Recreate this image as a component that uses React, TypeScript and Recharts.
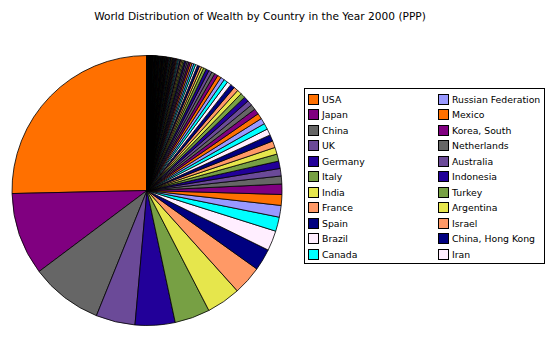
import React from 'react';
import { PieChart, Pie, Cell, Legend } from 'recharts';

const title = 'World Distribution of Wealth by Country in the Year 2000 (PPP)';

const countries = [
  'USA', 'Japan', 'China', 'UK', 'Germany', 'Italy', 'India', 'France', 'Spain', 'Brazil', 'Canada',
  'Russian Federation', 'Mexico', 'Korea, South', 'Netherlands', 'Australia', 'Indonesia', 'Turkey',
  'Argentina', 'Israel', 'China, Hong Kong', 'Iran',
];

const shares = [
  25.36, 9.89, 8.64, 4.69, 4.78, 4.22, 4.08, 3.47, 2.6, 2.4, 1.7,
  1.4, 1.3, 1.24, 0.95, 0.9, 0.88, 0.85, 0.82, 0.8, 0.78, 0.77,
];

// remaining (unlabelled) countries, largest first
const otherShares = [
  0.72, 0.70, 0.68, 0.66, 0.64, 0.62, 0.60, 0.58, 0.56, 0.54,
  0.52, 0.50, 0.48, 0.46, 0.44, 0.42, 0.40, 0.38, 0.36, 0.34,
  0.27, 0.26, 0.25, 0.24, 0.23, 0.22, 0.21, 0.20, 0.19, 0.18,
  0.17, 0.16, 0.15, 0.14, 0.13, 0.12, 0.12, 0.11, 0.10, 0.10,
  0.09, 0.09, 0.09, 0.08, 0.08, 0.08, 0.07, 0.07, 0.07, 0.07,
  0.06, 0.06, 0.06, 0.06, 0.05, 0.05, 0.05, 0.05, 0.05, 0.05,
];

const smallestShares = [
  0.04, 0.04, 0.04, 0.04, 0.04, 0.04, 0.04, 0.04, 0.04, 0.04,
  0.04, 0.04, 0.04, 0.04, 0.04, 0.04, 0.04, 0.04, 0.04, 0.04,
  0.03, 0.03, 0.03, 0.03, 0.03, 0.03, 0.03, 0.03, 0.03, 0.03,
  0.03, 0.03, 0.03, 0.03, 0.03, 0.03, 0.03, 0.03, 0.03, 0.03,
  0.02, 0.02, 0.02, 0.02, 0.02, 0.02, 0.02, 0.02, 0.02, 0.02,
  0.02, 0.02, 0.02, 0.02, 0.02, 0.02, 0.02, 0.02, 0.02, 0.02,
  0.01, 0.01, 0.01, 0.01, 0.01, 0.01, 0.01, 0.01, 0.01, 0.01,
  0.01, 0.01, 0.01, 0.01, 0.01, 0.01, 0.01, 0.01, 0.01, 0.01,
];

const palette = [
  '#FF7000', '#800080', '#666666', '#6B4A98', '#220099', '#77A044',
  '#E6E64C', '#FF9966', '#000080', '#FFEEFF', '#00FFFF', '#9999FF',
];

const data = [
  ...countries.map((name, i) => ({ name, value: shares[i] })),
  ...[...otherShares, ...smallestShares].map((value, i) => ({ name: `Other ${i + 1}`, value })),
];

const FONT = '"DejaVu Sans", Verdana, sans-serif';

const renderLegend = () => {
  const half = Math.ceil(countries.length / 2);
  const cols = [countries.slice(0, half), countries.slice(half)];
  return (
    <div
      style={{
        width: 241,
        height: 176,
        border: '1px solid #000',
        background: '#fff',
        boxSizing: 'border-box',
        position: 'relative',
        fontFamily: FONT,
        fontSize: 9.3,
        color: '#000',
      }}
    >
      {cols.map((col, c) =>
        col.map((name, r) => {
          const idx = c * half + r;
          return (
            <div
              key={name}
              style={{
                position: 'absolute',
                left: c === 0 ? 3 : 133,
                top: 4 + r * 15.5,
                display: 'flex',
                alignItems: 'center',
                height: 12,
                whiteSpace: 'nowrap',
              }}
            >
              <span
                style={{
                  display: 'inline-block',
                  width: 9,
                  height: 9,
                  border: '1px solid #000',
                  background: palette[idx % palette.length],
                  marginRight: 3,
                }}
              />
              <span>{name}</span>
            </div>
          );
        })
      )}
    </div>
  );
};

export default function App() {
  return (
    <div style={{ position: 'absolute', left: 0, top: 0, background: '#fff' }}>
      <PieChart width={553} height={353} margin={{ top: 0, right: 0, bottom: 0, left: 0 }}>
        <text
          x={260}
          y={20}
          textAnchor="middle"
          style={{ fontFamily: FONT, fontSize: 10.6, fill: '#000' }}
        >
          {title}
        </text>
        <Pie
          data={data}
          dataKey="value"
          nameKey="name"
          cx={147}
          cy={190.5}
          outerRadius={135}
          innerRadius={0}
          startAngle={90}
          endAngle={450}
          stroke="#000"
          strokeWidth={0.8}
          isAnimationActive={false}
          labelLine={false}
        >
          {data.map((d, i) => (
            <Cell key={d.name} fill={palette[i % palette.length]} stroke="#000" strokeWidth={0.8} />
          ))}
        </Pie>
        <Legend
          content={renderLegend}
          layout="vertical"
          align="right"
          verticalAlign="top"
          wrapperStyle={{ position: 'absolute', left: 304, top: 88, width: 241 }}
        />
      </PieChart>
    </div>
  );
}
